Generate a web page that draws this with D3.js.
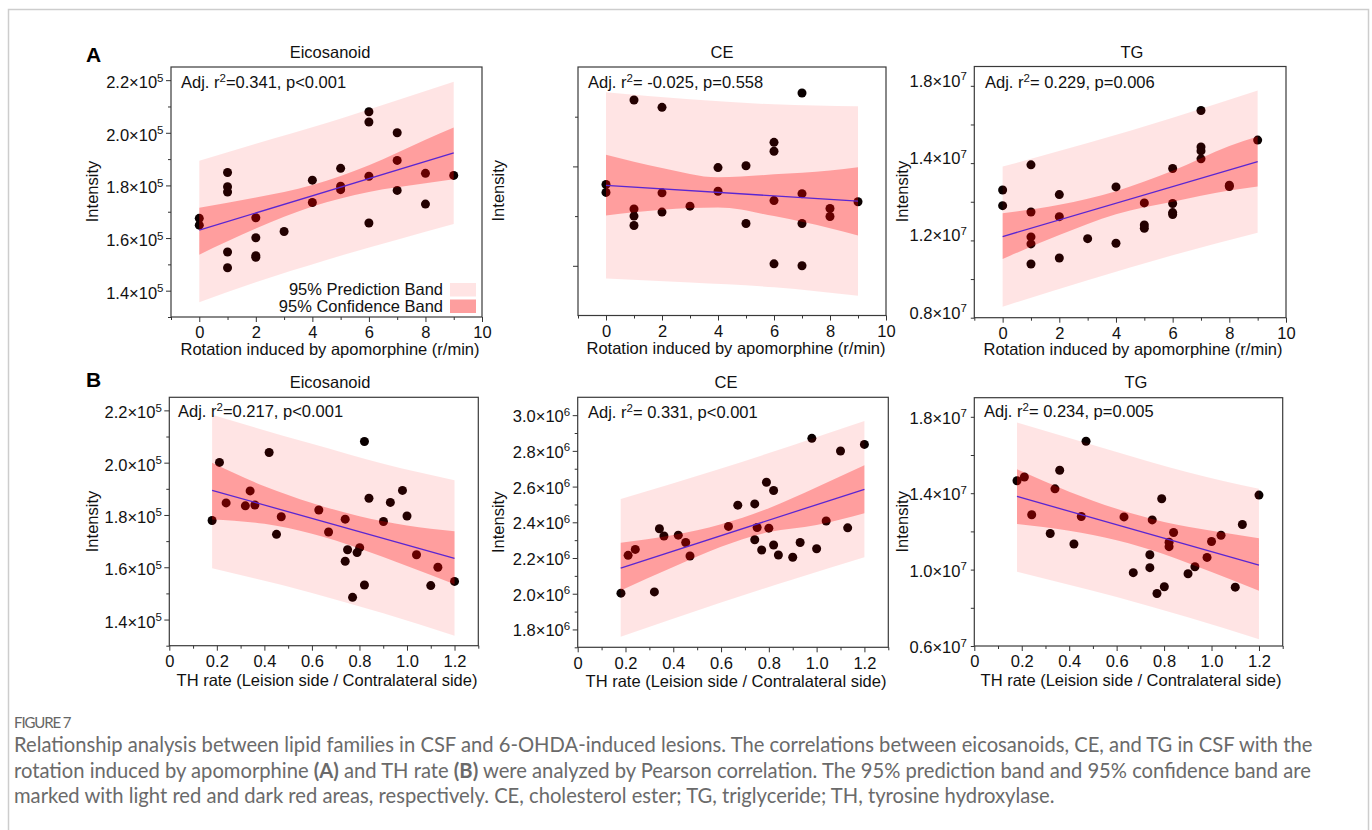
<!DOCTYPE html>
<html><head><meta charset="utf-8">
<script src="https://cdn.jsdelivr.net/npm/d3@7"></script>
<style>
body{margin:0;background:#fff;}
svg{display:block;}
</style></head><body>
<svg id="fig" width="1372" height="830"></svg>
<script>
// ================= DATA =================
// Row A: x = rotation induced by apomorphine (r/min)
const eicoRotPoints = [[0,1.675e5],[0,1.649e5],[1,1.849e5],[1,1.795e5],[1,1.775e5],[1,1.547e5],[1,1.487e5],
  [2,1.677e5],[2,1.601e5],[2,1.533e5],[2,1.527e5],[3,1.625e5],[4,1.820e5],[4,1.735e5],[5,1.865e5],[5,1.797e5],
  [5,1.784e5],[6,2.080e5],[6,2.041e5],[6,1.835e5],[6,1.657e5],[7,2.000e5],[7,1.895e5],[7,1.781e5],[8,1.846e5],
  [8,1.729e5],[9,1.838e5]];
const eicoRotFit = [[0,1.630e5],[9,1.924e5]];
const eicoRotConf = [[0,1.537e5,1.715e5],[2,1.636e5,1.754e5],[4,1.720e5,1.802e5],[6,1.775e5,1.877e5],[8,1.808e5,1.974e5],[9,1.823e5,2.020e5]];
const eicoRotPred = [[0,1.356e5,1.894e5],[2,1.432e5,1.958e5],[4.5,1.517e5,2.037e5],[7,1.594e5,2.124e5],[9,1.653e5,2.194e5]];

const ceRotPoints = [[0,2.409e6],[0,2.369e6],[1,2.834e6],[1,2.286e6],[1,2.250e6],[1,2.203e6],[2,2.797e6],[2,2.367e6],
  [2,2.270e6],[3,2.300e6],[4,2.494e6],[4,2.375e6],[5,2.503e6],[5,2.213e6],[6,2.621e6],[6,2.576e6],[6,2.328e6],
  [6,2.010e6],[7,2.869e6],[7,2.363e6],[7,2.213e6],[7,2.000e6],[8,2.288e6],[8,2.248e6],[9,2.322e6]];
const ceRotFit = [[0,2.405e6],[9,2.325e6]];
const ceRotConf = [[0,2.253e6,2.558e6],[2,2.282e6,2.492e6],[4,2.293e6,2.445e6],[6,2.250e6,2.460e6],[8,2.189e6,2.479e6],[9,2.152e6,2.496e6]];
const ceRotPred = [[0,1.936e6,2.873e6],[3,1.916e6,2.838e6],[6,1.892e6,2.812e6],[9,1.849e6,2.802e6]];

const tgRotPoints = [[0,1.261e7],[0,1.180e7],[1,1.391e7],[1,1.147e7],[1,1.018e7],[1,0.982e7],[1,0.878e7],[2,1.237e7],
  [2,1.123e7],[2,0.909e7],[3,1.009e7],[4,1.277e7],[4,0.985e7],[5,1.194e7],[5,1.080e7],[5,1.063e7],[6,1.372e7],
  [6,1.191e7],[6,1.144e7],[6,1.134e7],[7,1.672e7],[7,1.484e7],[7,1.463e7],[7,1.422e7],[8,1.286e7],[8,1.279e7],[9,1.519e7]];
const tgRotFit = [[0,1.020e7],[9,1.408e7]];
const tgRotConf = [[0,0.904e7,1.141e7],[2,1.028e7,1.184e7],[4,1.136e7,1.255e7],[6,1.200e7,1.360e7],[8,1.258e7,1.489e7],[9,1.279e7,1.538e7]];
const tgRotPred = [[0,0.657e7,1.382e7],[3,0.794e7,1.504e7],[6,0.923e7,1.635e7],[9,1.040e7,1.776e7]];

// Row B: x = TH rate (lesion side / contralateral side)
const eicoThPoints = [[0.180,1.779e5],[0.211,2.001e5],[0.239,1.846e5],[0.320,1.835e5],[0.340,1.892e5],[0.360,1.838e5],
  [0.420,2.039e5],[0.451,1.726e5],[0.471,1.793e5],[0.629,1.819e5],[0.670,1.735e5],[0.740,1.784e5],[0.740,1.623e5],
  [0.750,1.667e5],[0.771,1.485e5],[0.790,1.656e5],[0.801,1.675e5],[0.821,2.081e5],[0.821,1.532e5],[0.840,1.864e5],
  [0.901,1.775e5],[0.930,1.848e5],[0.981,1.894e5],[1.000,1.796e5],[1.040,1.648e5],[1.100,1.530e5],[1.130,1.600e5],[1.200,1.546e5]];
const eicoThFit = [[0.18,1.894e5],[1.2,1.634e5]];
const eicoThConf = [[0.18,1.783e5,2.000e5],[0.4,1.766e5,1.910e5],[0.6,1.728e5,1.846e5],[0.8,1.672e5,1.795e5],[1.0,1.605e5,1.760e5],[1.2,1.535e5,1.738e5]];
const eicoThPred = [[0.18,1.596e5,2.183e5],[0.6,1.502e5,2.072e5],[0.9,1.424e5,1.996e5],[1.2,1.338e5,1.933e5]];

const ceThPoints = [[0.181,2.003e6],[0.211,2.215e6],[0.241,2.248e6],[0.321,2.010e6],[0.342,2.364e6],[0.361,2.323e6],
  [0.421,2.328e6],[0.452,2.287e6],[0.470,2.211e6],[0.631,2.377e6],[0.670,2.496e6],[0.741,2.503e6],[0.741,2.302e6],
  [0.751,2.371e6],[0.770,2.245e6],[0.790,2.624e6],[0.800,2.367e6],[0.820,2.578e6],[0.820,2.273e6],[0.840,2.217e6],
  [0.900,2.204e6],[0.931,2.287e6],[0.980,2.870e6],[1.000,2.252e6],[1.040,2.407e6],[1.100,2.799e6],[1.130,2.369e6],[1.200,2.836e6]];
const ceThFit = [[0.18,2.144e6],[1.2,2.585e6]];
const ceThConf = [[0.18,2.018e6,2.286e6],[0.4,2.149e6,2.329e6],[0.6,2.263e6,2.389e6],[0.8,2.345e6,2.479e6],[1.0,2.385e6,2.596e6],[1.2,2.451e6,2.719e6]];
const ceThPred = [[0.18,1.759e6,2.531e6],[0.6,1.951e6,2.701e6],[0.9,2.080e6,2.832e6],[1.2,2.204e6,2.967e6]];

const tgThPoints = [[0.180,1.465e7],[0.211,1.485e7],[0.242,1.287e7],[0.320,1.189e7],[0.340,1.423e7],[0.360,1.520e7],
  [0.420,1.134e7],[0.451,1.278e7],[0.471,1.672e7],[0.631,1.276e7],[0.670,0.984e7],[0.740,1.078e7],[0.740,1.010e7],
  [0.750,1.260e7],[0.770,0.875e7],[0.790,1.371e7],[0.801,0.910e7],[0.821,1.143e7],[0.821,1.120e7],[0.840,1.194e7],
  [0.901,0.978e7],[0.930,1.015e7],[0.981,1.064e7],[1.000,1.147e7],[1.040,1.180e7],[1.100,0.908e7],[1.130,1.236e7],[1.200,1.390e7]];
const tgThFit = [[0.18,1.383e7],[1.2,1.024e7]];
const tgThConf = [[0.18,1.239e7,1.525e7],[0.4,1.204e7,1.408e7],[0.6,1.154e7,1.318e7],[0.8,1.081e7,1.249e7],[1.0,0.987e7,1.203e7],[1.2,0.889e7,1.164e7]];
const tgThPred = [[0.18,0.989e7,1.770e7],[0.6,0.856e7,1.616e7],[0.9,0.750e7,1.510e7],[1.2,0.635e7,1.423e7]];

// Tick values and labels
const rotTicks = [0,2,4,6,8,10];
const rotTickLabels = ["0","2","4","6","8","10"];
const rotMinor = [-1,1,3,5,7,9];
const thTicks = [0,0.2,0.4,0.6,0.8,1.0,1.2];
const thTickLabels = ["0","0.2","0.4","0.6","0.8","1.0","1.2"];
const thMinor = [0.1,0.3,0.5,0.7,0.9,1.1,1.3];

const eicoTicks = [1.4e5,1.6e5,1.8e5,2.0e5,2.2e5];
const eicoTickLabels = ["1.4","1.6","1.8","2.0","2.2"];
const eicoMinor = [1.3e5,1.5e5,1.7e5,1.9e5,2.1e5];
const ceRotTicks = [2.0e6,2.5e6];
const ceRotMinor = [2.25e6,2.75e6];
const ceThTicks = [1.8e6,2.0e6,2.2e6,2.4e6,2.6e6,2.8e6,3.0e6];
const ceThTickLabels = ["1.8","2.0","2.2","2.4","2.6","2.8","3.0"];
const ceThMinor = [1.7e6,1.9e6,2.1e6,2.3e6,2.5e6,2.7e6,2.9e6];
const tgTicks = [0.6e7,0.8e7,1.0e7,1.2e7,1.4e7,1.6e7,1.8e7];
const tgLabelAt = [1.8e7,1.4e7,1.0e7,0.6e7];
const tgRotTickLabels = ["1.8","1.4","1.2","0.8"];
const tgThTickLabels = ["1.8","1.4","1.0","0.6"];

const titles = ["Eicosanoid","CE","TG","Eicosanoid","CE","TG"];
const statSuffix = ["=0.341, p<0.001","= -0.025, p=0.558","= 0.229, p=0.006","=0.217, p<0.001","= 0.331, p<0.001","= 0.234, p=0.005"];
const xTitles = ["Rotation induced by apomorphine (r/min)","TH rate (Leision side / Contralateral side)"];
const legendLabels = ["95% Prediction Band","95% Confidence Band"];

// ================= DRAW =================
const FONT = "'Liberation Sans', Arial, Helvetica, sans-serif";
const svg = d3.select('#fig');
svg.append('rect').attr('x',8.5).attr('y',9.5).attr('width',1360).attr('height',900)
  .attr('fill','none').attr('stroke','#cdcdcd').attr('stroke-width',1.5);

const panels = [
  {pts:eicoRotPoints, fit:eicoRotFit, conf:eicoRotConf, pred:eicoRotPred, box:[171,67,482,317],
   xd:[-1,10], xt:rotTicks, xl:rotTickLabels, xm:rotMinor, yd:[1.3e5,2.25e5], yt:eicoTicks, ym:eicoMinor,
   yLabAt:eicoTicks, yLab:eicoTickLabels, exp:"5", yLen:5, labDy:8, title:0, tx:330, ty:58, sx:181, sy:88,
   itX:92, xtX:330, xtY:355, xtI:0},
  {pts:ceRotPoints, fit:ceRotFit, conf:ceRotConf, pred:ceRotPred, box:[578,67,886,315.5],
   xd:[-1,10], xt:rotTicks, xl:rotTickLabels, xm:rotMinor, yd:[1.75e6,3.0e6], yt:ceRotTicks, ym:ceRotMinor,
   yLabAt:[], yLab:[], exp:"6", yLen:5, labDy:8, title:1, tx:722, ty:58, sx:588, sy:88,
   itX:498, xtX:736, xtY:354, xtI:0},
  {pts:tgRotPoints, fit:tgRotFit, conf:tgRotConf, pred:tgRotPred, box:[974.3,66.5,1286,317.7],
   xd:[-1,10], xt:rotTicks, xl:rotTickLabels, xm:rotMinor, yd:[0.6e7,1.9e7], yt:tgTicks, ym:[],
   yLabAt:tgLabelAt, yLab:tgRotTickLabels, exp:"7", yLen:3.5, labDy:1, title:2, tx:1132, ty:58, sx:985, sy:88,
   itX:902, xtX:1133, xtY:355, xtI:0},
  {pts:eicoThPoints, fit:eicoThFit, conf:eicoThConf, pred:eicoThPred, box:[169.3,397.3,478.3,645.7],
   xd:[0,1.3], xt:thTicks, xl:thTickLabels, xm:thMinor, yd:[1.3e5,2.25e5], yt:eicoTicks, ym:eicoMinor,
   yLabAt:eicoTicks, yLab:eicoTickLabels, exp:"5", yLen:5, labDy:8, title:3, tx:330, ty:388, sx:178, sy:417,
   itX:92, xtX:327, xtY:686, xtI:1},
  {pts:ceThPoints, fit:ceThFit, conf:ceThConf, pred:ceThPred, box:[577.7,397.3,888.3,647.3],
   xd:[0,1.3], xt:thTicks, xl:thTickLabels, xm:thMinor, yd:[1.7e6,3.1e6], yt:ceThTicks, ym:ceThMinor,
   yLabAt:ceThTicks, yLab:ceThTickLabels, exp:"6", yLen:5, labDy:7, title:4, tx:726, ty:388, sx:588, sy:418,
   itX:498, xtX:736, xtY:687, xtI:1},
  {pts:tgThPoints, fit:tgThFit, conf:tgThConf, pred:tgThPred, box:[974.3,397.7,1282.7,646],
   xd:[0,1.3], xt:thTicks, xl:thTickLabels, xm:thMinor, yd:[0.6e7,1.9e7], yt:tgTicks, ym:[],
   yLabAt:tgLabelAt, yLab:tgThTickLabels, exp:"7", yLen:3.5, labDy:7, title:5, tx:1136, ty:388, sx:984, sy:417,
   itX:902, xtX:1131, xtY:686, xtI:1}
];

const FS = 16.5;
const SUP = 11.5;
function styleAxis(sel){
  sel.select('.domain').remove();
  sel.selectAll('.tick line').attr('stroke','#333').attr('stroke-width',1);
  sel.selectAll('.tick text').attr('font-family',FONT).attr('font-size',FS).attr('fill','#111');
}

panels.forEach((p,pi)=>{
  const [x0,y0,x1,y1] = p.box;
  const x = d3.scaleLinear().domain(p.xd).range([x0,x1]);
  const y = d3.scaleLinear().domain(p.yd).range([y1,y0]);
  const g = svg.append('g');

  g.selectAll('circle').data(p.pts).join('circle')
    .attr('cx',d=>x(d[0])).attr('cy',d=>y(d[1])).attr('r',4.5).attr('fill','#0a0000');

  const area = d3.area().x(d=>x(d[0])).y0(d=>y(d[1])).y1(d=>y(d[2])).curve(d3.curveMonotoneX);
  g.append('path').attr('d',area(p.pred)).attr('fill','rgb(255,0,0)').attr('fill-opacity',0.106);
  g.append('path').attr('d',area(p.conf)).attr('fill','rgb(255,0,0)').attr('fill-opacity',0.306);

  g.append('path').attr('d',d3.line().x(d=>x(d[0])).y(d=>y(d[1]))(p.fit))
    .attr('stroke','#5a26d2').attr('stroke-width',1.3).attr('fill','none');

  g.append('rect').attr('x',x0).attr('y',y0).attr('width',x1-x0).attr('height',y1-y0)
    .attr('fill','none').attr('stroke','#3a3a3a').attr('stroke-width',1.2);

  // x axis
  const xa = g.append('g').attr('transform',`translate(0,${y1})`)
    .call(d3.axisBottom(x).tickValues(p.xt).tickSize(5).tickPadding(4.5).tickFormat((d,i)=>p.xl[i]));
  styleAxis(xa);
  const xm = g.append('g').attr('transform',`translate(0,${y1})`)
    .call(d3.axisBottom(x).tickValues(p.xm).tickSize(3).tickFormat(''));
  styleAxis(xm);
  // y axis
  const ya = g.append('g').attr('transform',`translate(${x0},0)`)
    .call(d3.axisLeft(y).tickValues(p.yt).tickSize(p.yLen).tickFormat(''));
  styleAxis(ya);
  if (p.ym.length){
    const ym = g.append('g').attr('transform',`translate(${x0},0)`)
      .call(d3.axisLeft(y).tickValues(p.ym).tickSize(3).tickFormat(''));
    styleAxis(ym);
  }
  p.yLabAt.forEach((v,i)=>{
    const t = g.append('text').attr('x',x0-7.5).attr('y',y(v)+p.labDy)
      .attr('text-anchor','end').attr('font-family',FONT).attr('font-size',FS).attr('fill','#111');
    t.append('tspan').text(p.yLab[i]+'×10');
    t.append('tspan').attr('dy',-6.5).attr('font-size',SUP).text(p.exp);
  });

  // title
  g.append('text').attr('x',p.tx).attr('y',p.ty).attr('text-anchor','middle')
    .attr('font-family',FONT).attr('font-size',FS).attr('fill','#111').text(titles[p.title]);
  // stat
  const st = g.append('text').attr('x',p.sx).attr('y',p.sy)
    .attr('font-family',FONT).attr('font-size',FS).attr('fill','#111');
  st.append('tspan').text('Adj. r');
  st.append('tspan').attr('dy',-6.5).attr('font-size',SUP).text('2');
  st.append('tspan').attr('dy',6.5).text(statSuffix[pi]);
  // y title
  const cy = (y0+y1)/2 + (pi<3 ? -0.5 : 0);
  g.append('text').attr('transform',`translate(${p.itX},${cy}) rotate(-90)`)
    .attr('text-anchor','middle').attr('dominant-baseline','central')
    .attr('font-family',FONT).attr('font-size',FS).attr('fill','#111').text('Intensity');
  // x title
  g.append('text').attr('x',p.xtX).attr('y',p.xtY).attr('text-anchor','middle')
    .attr('font-family',FONT).attr('font-size',FS).attr('fill','#111').text(xTitles[p.xtI]);

  if (pi===0){
    const swY = [283,299.5];
    legendLabels.forEach((L,i)=>{
      g.append('rect').attr('x',450).attr('y',swY[i]).attr('width',26).attr('height',13.5)
        .attr('fill', i===0 ? '#ffe4e4' : '#fd9e9e');
      g.append('text').attr('x',443).attr('y',swY[i]+12).attr('text-anchor','end')
        .attr('font-family',FONT).attr('font-size',FS).attr('fill','#111').text(L);
    });
  }
});

// panel letters
[["A",62],["B",387]].forEach(([L,yy])=>{
  svg.append('text').attr('x',86).attr('y',yy).attr('font-family',FONT).attr('font-weight','bold')
    .attr('font-size',21).attr('fill','#000').text(L);
});

// caption
const CFONT = "Lato, 'Open Sans', 'Noto Sans', sans-serif";
svg.append('text').attr('x',14).attr('y',728).attr('font-family',CFONT).attr('font-size',15)
  .attr('letter-spacing',-1.1).attr('fill','#666').text('FIGURE 7');
const capLines = [
  [["Relationship analysis between lipid families in CSF and 6-OHDA-induced lesions. The correlations between eicosanoids, CE, and TG in CSF with the",false]],
  [["rotation induced by apomorphine ",false],["(A)",true],[" and TH rate ",false],["(B)",true],[" were analyzed by Pearson correlation. The 95% prediction band and 95% confidence band are",false]],
  [["marked with light red and dark red areas, respectively. CE, cholesterol ester; TG, triglyceride; TH, tyrosine hydroxylase.",false]]
];
const capY = [752,777.5,802.5];
const capNodes = capLines.map((parts,i)=>{
  const t = svg.append('text').attr('x',14).attr('y',capY[i]).attr('font-family',CFONT)
    .attr('font-size',16).attr('fill','#6a6a6a');
  parts.forEach(([s,b])=>t.append('tspan').attr('font-weight',b?'bold':'normal').text(s));
  return t;
});
const w1 = capNodes[0].node().getComputedTextLength();
const fs = 16*1299/w1;
capNodes.forEach(t=>t.attr('font-size',fs));
</script>
</body></html>
